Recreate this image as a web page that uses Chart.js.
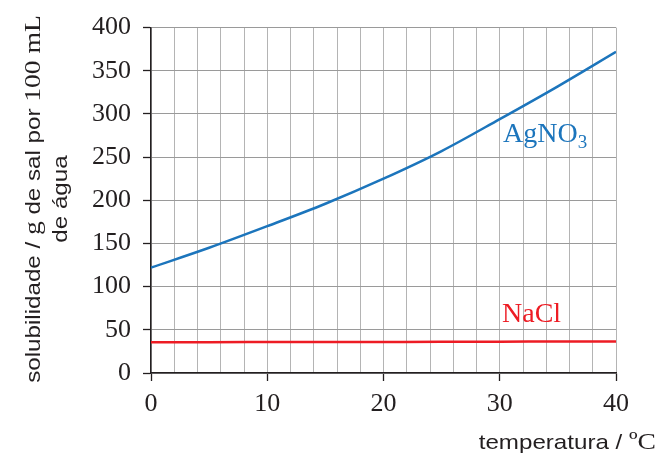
<!DOCTYPE html>
<html>
<head>
<meta charset="utf-8">
<script src="https://cdn.jsdelivr.net/npm/chart.js@4/dist/chart.umd.min.js"></script>
<style>
html,body{margin:0;padding:0;background:#fff;}
#wrap{width:656px;height:455px;position:relative;}
</style>
</head>
<body>
<div id="wrap"><canvas id="c"></canvas></div>
<script>
const temperatures = [0, 5, 10, 15, 20, 25, 30, 35, 40];
const agno3 = [122, 145, 170, 196, 225, 257, 294, 332, 372];
const nacl = [35.7, 35.7, 35.8, 35.9, 36.0, 36.1, 36.3, 36.4, 36.6];
const yTicks = [0, 50, 100, 150, 200, 250, 300, 350, 400];
const xTickLabels = [0, 10, 20, 30, 40];

const DARK = '#231f20';
const BLUE = '#1c75bc';
const RED = '#ed1c24';
const GRID_V = '#b4b4b4';
const GRID_H = '#9a9a9a';
const STRETCH = 1.15;

function pts(xs, ys){ return xs.map((x,i)=>({x:x, y:ys[i]})); }

function drawSegs(ctx, segs, x, y){
  segs.forEach(s=>{ ctx.font = s[1]; ctx.fillText(s[0], x, y); x += ctx.measureText(s[0]).width; });
}
function segsWidth(ctx, segs){
  let t = 0; segs.forEach(s=>{ ctx.font = s[1]; t += ctx.measureText(s[0]).width; }); return t;
}

const labelsPlugin = {
  id: 'customText',
  afterDraw(chart){
    const ctx = chart.ctx;
    ctx.save();
    ctx.textBaseline = 'alphabetic';
    ctx.textAlign = 'left';
    // series labels
    ctx.fillStyle = BLUE;
    ctx.font = '28px "Liberation Serif"';
    const ax = 503, ay = 142;
    ctx.fillText('AgNO', ax, ay);
    const w = ctx.measureText('AgNO').width;
    ctx.font = '19px "Liberation Serif"';
    ctx.fillText('3', ax + w, ay + 6);
    ctx.fillStyle = RED;
    ctx.font = '28px "Liberation Serif"';
    ctx.fillText('NaCl', 502, 322);

    ctx.fillStyle = DARK;
    // x axis title
    const segX = [['temperatura / ', '21px "Liberation Sans"'], ['ºC', '24px "Liberation Serif"']];
    ctx.save();
    const tw = segsWidth(ctx, segX) * STRETCH;
    ctx.translate(656 - tw, 449);
    ctx.scale(STRETCH, 1);
    drawSegs(ctx, segX, 0, 0);
    ctx.restore();

    // y axis title (rotated)
    const segY = [['solubilidade / ', '21px "Liberation Sans"'], ['g', '24px "Liberation Serif"'], [' de sal por ', '21px "Liberation Sans"'], ['100 mL', '24px "Liberation Serif"']];
    ctx.save();
    ctx.translate(40, 199);
    ctx.rotate(-Math.PI/2);
    ctx.scale(STRETCH, 1);
    const total = segsWidth(ctx, segY);
    drawSegs(ctx, segY, -total/2, 0);
    ctx.font = '21px "Liberation Sans"';
    ctx.textAlign = 'center';
    ctx.fillText('de água', 0, 27);
    ctx.restore();
    ctx.restore();
  }
};

new Chart(document.getElementById('c'), {
  type: 'line',
  data: {
    datasets: [
      {label:'AgNO3', data: pts(temperatures, agno3), borderColor: BLUE, borderWidth: 2.5, pointRadius: 0, cubicInterpolationMode: 'monotone', fill:false},
      {label:'NaCl', data: pts(temperatures, nacl), borderColor: RED, borderWidth: 2.5, pointRadius: 0, cubicInterpolationMode: 'monotone', fill:false}
    ]
  },
  options: {
    responsive: true,
    maintainAspectRatio: false,
    animation: false,
    layout: {padding: {top: 24, right: 40, bottom: 0, left: 0}},
    plugins: {legend: {display: false}, tooltip: {enabled: false}},
    scales: {
      x: {
        type: 'linear', min: 0, max: 40,
        afterFit(s){ s.height = 82; },
        ticks: {
          stepSize: 2, autoSkip: false, maxRotation: 0, padding: 8,
          color: DARK, font: {family: 'Liberation Serif', size: 26},
          callback(v){ return xTickLabels.includes(v) ? String(v) : ''; }
        },
        grid: {
          color: GRID_V, lineWidth: 1, tickLength: 8,
          tickColor(c){ return (c.tick && c.tick.value % 10 === 0) ? DARK : 'rgba(0,0,0,0)'; },
          tickWidth: 1.3
        },
        border: {color: DARK, width: 1.5}
      },
      y: {
        min: 0, max: 400,
        afterFit(s){ s.width = 151; },
        afterBuildTicks(s){ s.ticks = yTicks.map(v=>({value:v})); },
        ticks: {padding: 12, color: DARK, font: {family: 'Liberation Serif', size: 26}},
        grid: {color: GRID_H, lineWidth: 1, tickLength: 8, tickColor: DARK, tickWidth: 1.3},
        border: {color: DARK, width: 1.5}
      }
    }
  },
  plugins: [labelsPlugin]
});
</script>
</body>
</html>
